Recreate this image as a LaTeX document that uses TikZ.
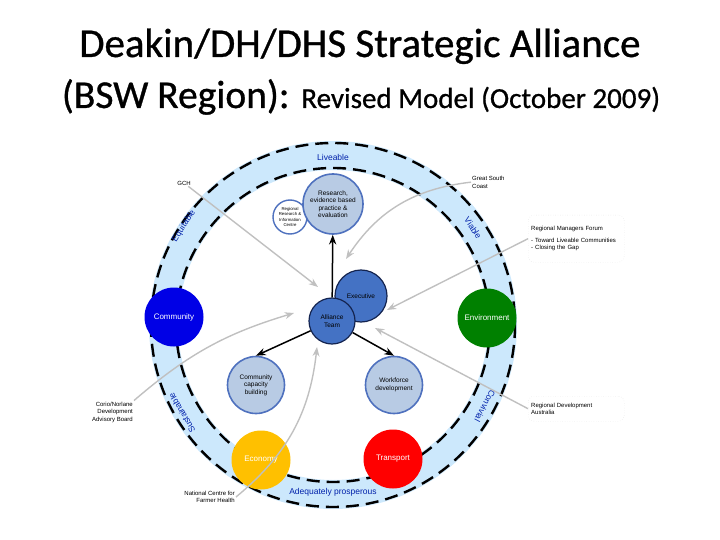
\documentclass[tikz,border=0pt]{standalone}
\usepackage{fontspec}
\setmainfont{Carlito}
\newfontfamily\titlefont[FakeBold=0.8]{Carlito}
\newfontfamily\arialfont{Liberation Sans}
\usetikzlibrary{arrows.meta}

\definecolor{bandblue}{RGB}{204,232,252}
\definecolor{ringtext}{RGB}{0,32,170}
\definecolor{paleblue}{RGB}{184,203,228}
\definecolor{paleedge}{RGB}{79,113,190}
\definecolor{midblue}{RGB}{68,114,196}
\definecolor{darkedge}{RGB}{20,36,80}
\definecolor{feedgray}{RGB}{192,192,192}
\definecolor{commblue}{RGB}{0,0,230}
\definecolor{envgreen}{RGB}{0,128,0}
\definecolor{econyellow}{RGB}{255,192,0}
\definecolor{transred}{RGB}{255,0,0}

\begin{document}
\begin{tikzpicture}[x=1pt,y=-1pt,>={Stealth[]},
    ring/.style={draw=black,line width=2.4pt,dash pattern=on 13pt off 7pt},
    ringlabel/.style={text=ringtext,inner sep=0pt,font=\arialfont\fontsize{8.5}{9}\selectfont},
    goal/.style={circle,minimum size=59pt,inner sep=0pt,text=white,font=\arialfont\fontsize{8}{9}\selectfont},
    work/.style={circle,draw=paleedge,fill=paleblue,line width=1.6pt,inner sep=0pt,align=center,font=\arialfont\fontsize{6.5}{7.5}\selectfont},
    core/.style={circle,draw=darkedge,fill=midblue,line width=1.2pt,inner sep=0pt,align=center,font=\arialfont\fontsize{6.5}{7.5}\selectfont},
    partner/.style={inner sep=1pt,font=\arialfont\fontsize{6}{7.5}\selectfont},
    forum/.style={partner,draw=black!15,dotted,rounded corners=6pt,text width=90pt,inner sep=3pt,anchor=north west},
    feed/.style={->,draw=feedgray,line width=1.4pt},
    link/.style={->,line width=1.5pt}]
    \useasboundingbox (0,0) rectangle (720,540);

    % title
    \node[anchor=base,font=\titlefont\fontsize{41}{48}\selectfont] (title) at (360,57) {Deakin/DH/DHS Strategic Alliance};
    \node[anchor=base,font=\titlefont] (subtitle) at (361,108) {\fontsize{39.5}{48}\selectfont(BSW Region): \fontsize{29}{34}\selectfont Revised Model (October 2009)};

    % the ring of values
    \coordinate (hub) at (333,325);
    \fill[bandblue,even odd rule] (hub) circle[radius=184] (hub) circle[radius=155];
    \draw[ring] (hub) circle[radius=182];
    \draw[ring] (hub) circle[radius=157];

    \node[ringlabel] (liveable) at (333,157) {Liveable};
    \node[ringlabel,rotate=-56] (viable) at (473,228) {Viable};
    \node[ringlabel,rotate=-118] (convivial) at (485,406) {Convivial};
    \node[ringlabel] (prosperous) at (333,492) {Adequately prosperous};
    \node[ringlabel,rotate=120] (sustainable) at (182,413) {Sustainable};
    \node[ringlabel,rotate=57] (equitable) at (184,226) {Equitable};

    % domains on the ring
    \node[goal,fill=commblue] (community) at (174,317) {Community};
    \node[goal,fill=envgreen] (environment) at (487,318) {Environment};
    \node[goal,fill=econyellow] (economy) at (261,460) {Economy};
    \node[goal,fill=transred] (transport) at (393,459) {Transport};

    % alliance
    \node[work,fill=white,minimum size=34pt,line width=1.4pt,font=\arialfont\fontsize{4.3}{5.2}\selectfont] (centre) at (290,217) {Regional\\Research \&\\Information\\Centre};
    \node[work,minimum size=60pt] (research) at (333,204) {Research,\\evidence based\\practice \&\\evaluation};
    \node[core,minimum size=52pt] (executive) at (361,296) {Executive};
    \node[core,minimum size=46pt] (alliance) at (332,321) {Alliance\\Team};
    \node[work,minimum size=57pt] (capacity) at (256,385) {Community\\capacity\\building};
    \node[work,minimum size=57pt] (workforce) at (394,385) {Workforce\\development};

    \draw[link] (alliance) -- (research);
    \draw[link] (alliance) -- (capacity.north);
    \draw[link] (alliance) -- (workforce.north);

    % partners
    \node[partner] (gch) at (184,183) {GCH};
    \node[partner,align=left,anchor=north west] (gsc) at (471,175) {Great South\\Coast};
    \node[forum,minimum height=47pt] (rmf) at (528,215) {Regional Managers Forum\\[4pt]- Toward Liveable Communities\\- Closing the Gap};
    \node[forum,minimum height=25pt] (rda) at (528,396) {Regional Development\\Australia};
    \node[partner,align=right,anchor=east] (corio) at (134,412) {Corio/Norlane\\Development\\Advisory Board};
    \node[partner,align=right,anchor=east] (ncfh) at (236,497) {National Centre for\\Farmer Health};

    \coordinate (gchend) at (318,287);
    \coordinate (gscend) at (346,259);
    \coordinate (rmfend) at (387,310);
    \coordinate (rdaend) at (375,328);
    \coordinate (corioend) at (294,313);
    \coordinate (ncfhend) at (317,347);

    \draw[feed] (gch) -- (gchend);
    \draw[feed] (gsc.west) to[bend right=25] (gscend);
    \draw[feed] (rmf.west) -- (rmfend);
    \draw[feed] (rda.west) -- (rdaend);
    \draw[feed] (corio.north east) to[bend left=12] (corioend);
    \draw[feed] (ncfh.east) to[bend right=22] (ncfhend);
\end{tikzpicture}
\end{document}
